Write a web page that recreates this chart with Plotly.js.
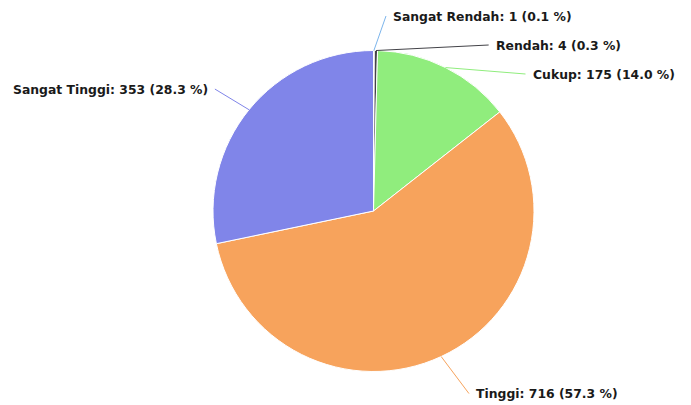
<!DOCTYPE html>
<html>
<head>
<meta charset="utf-8">
<script src="https://cdn.plot.ly/plotly-3.0.1.min.js"></script>
<style>html,body{margin:0;padding:0;background:#fff;}#chart{width:691px;height:405px;}</style>
</head>
<body>
<div id="chart"></div>
<script>
const categories = ["Sangat Rendah", "Rendah", "Cukup", "Tinggi", "Sangat Tinggi"];
const values = [1, 4, 175, 716, 353];
const colors = ["#7cb5ec", "#434348", "#90ed7d", "#f7a35c", "#8085e9"];

const W = 691, H = 405;
const cx = 373.5, cy = 211, r = 160.5;
const labelRadius = 198, minGap = 29, textShiftY = 3;
const padRight = 17, padLeft = 10;

const total = values.reduce((a, b) => a + b, 0);
const pct = values.map(v => (v / total * 100).toFixed(1));

// label geometry derived from slice angles
const R = labelRadius;
let cum = 0;
const items = values.map((v, i) => {
  const mid = (cum + v / 2) / total * 2 * Math.PI;
  cum += v;
  return {
    i, mid,
    side: Math.sin(mid) >= 0 ? 1 : -1,
    ex: cx + r * Math.sin(mid),
    ey: cy - r * Math.cos(mid),
    y: cy - R * Math.cos(mid)
  };
});
[1, -1].forEach(side => {
  const list = items.filter(d => d.side === side).sort((a, b) => a.y - b.y);
  for (let k = 1; k < list.length; k++) {
    if (list[k].y < list[k - 1].y + minGap) list[k].y = list[k - 1].y + minGap;
  }
});
items.forEach(d => {
  const dy = d.y - cy;
  d.x = cx + d.side * Math.sqrt(Math.max(0, R * R - dy * dy));
  d.tx = d.x + d.side * (d.side > 0 ? padRight : padLeft);
  d.ty = d.y + textShiftY;
});

const px = x => x / W, py = y => 1 - y / H;

const annotations = items.map(d => ({
  xref: 'paper', yref: 'paper',
  x: px(d.tx), y: py(d.ty),
  xanchor: d.side > 0 ? 'left' : 'right', yanchor: 'middle',
  showarrow: false,
  text: categories[d.i] + ': ' + values[d.i] + ' (' + pct[d.i] + ' %)',
  font: {family: 'DejaVu Sans, Verdana, sans-serif', size: 12.4, color: '#1a1a1a', weight: 'bold'}
}));
const shapes = items.map(d => ({
  type: 'line', xref: 'paper', yref: 'paper',
  x0: px(d.ex), y0: py(d.ey),
  x1: px(d.tx - d.side * 5), y1: py(d.ty),
  line: {color: colors[d.i], width: 1}
}));

const trace = {
  type: 'pie',
  labels: categories,
  values: values,
  sort: false,
  direction: 'clockwise',
  rotation: 0,
  marker: {colors: colors, line: {color: '#ffffff', width: 1}},
  textinfo: 'none',
  hoverinfo: 'none',
  showlegend: false,
  domain: {x: [px(cx - r), px(cx + r)], y: [py(cy + r), py(cy - r)]}
};

Plotly.newPlot('chart', [trace], {
  width: W, height: H,
  margin: {l: 0, r: 0, t: 0, b: 0},
  paper_bgcolor: '#ffffff',
  showlegend: false,
  annotations: annotations,
  shapes: shapes
}, {displayModeBar: false, staticPlot: true});
</script>
</body>
</html>
